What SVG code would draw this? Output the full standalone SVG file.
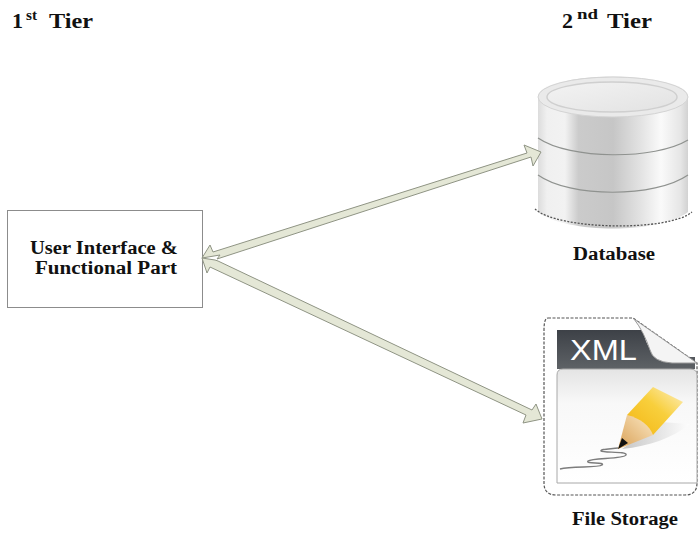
<svg xmlns="http://www.w3.org/2000/svg" width="699" height="535" viewBox="0 0 699 535">
<style>
text{font-family:"Liberation Serif","Times New Roman",serif;font-weight:bold;fill:#111}
.h{font-size:22px}
.s{font-size:14px}
.l{font-size:18px}
.a{fill:#e4e7d6;stroke:#8f9484;stroke-width:1;stroke-linejoin:round}
.ring{fill:none;stroke:#8f928f;stroke-width:1.2}
</style>
<defs>
<linearGradient id="cyl" x1="0" x2="1" y1="0" y2="0">
<stop offset="0" stop-color="#dcdcdc"/><stop offset=".06" stop-color="#f0f0f0"/><stop offset=".18" stop-color="#f2f2f2"/><stop offset=".27" stop-color="#cbcbcb"/><stop offset=".5" stop-color="#c6c6c6"/><stop offset=".68" stop-color="#e2e2e2"/><stop offset=".82" stop-color="#fafafa"/><stop offset=".95" stop-color="#e6e6e6"/><stop offset="1" stop-color="#d2d2d2"/>
</linearGradient>
<linearGradient id="top" x1="0" x2="1" y1="0" y2="1">
<stop offset="0" stop-color="#f3f3f3"/><stop offset="1" stop-color="#e2e2e2"/>
</linearGradient>
<linearGradient id="band" x1="0" x2="0" y1="0" y2="1">
<stop offset="0" stop-color="#3d4147"/><stop offset="1" stop-color="#5e6266"/>
</linearGradient>
<linearGradient id="sheet" x1="0" x2="0" y1="0" y2="1">
<stop offset="0" stop-color="#e4e4e4"/><stop offset=".3" stop-color="#f8f8f8"/><stop offset="1" stop-color="#fff"/>
</linearGradient>
<linearGradient id="pencil" x1="0" x2="1" y1="1" y2="0">
<stop offset="0" stop-color="#f3b512"/><stop offset=".55" stop-color="#f8cf3c"/><stop offset="1" stop-color="#fdf0c4"/>
</linearGradient>
<linearGradient id="wood" x1="0" x2="1" y1="1" y2="0">
<stop offset="0" stop-color="#d9a055"/><stop offset="1" stop-color="#fbe8c4"/>
</linearGradient>
<linearGradient id="shadow" x1="0" x2="1" y1="0" y2="0">
<stop offset="0" stop-color="#b0b0b0"/><stop offset="1" stop-color="#fff"/>
</linearGradient>
</defs>

<g id="ui">
<rect x="7.500" y="210.500" width="195" height="97" fill="#fff" stroke="#8c8c8c" stroke-width="1"/>
<text class="l" x="30" y="254" textLength="148" lengthAdjust="spacingAndGlyphs">User Interface &amp;</text>
<text class="l" x="35" y="274" textLength="142" lengthAdjust="spacingAndGlyphs">Functional Part</text>
</g>

<g id="database">
<path d="M538 97 C538 70 688 70 688 97 V212 C660 234 566 234 538 212 Z" fill="url(#cyl)"/>
<path d="M535 209 C558 230 668 232 692 212" fill="none" stroke="#555" stroke-width="1.300" stroke-dasharray="2 1.500"/>
<ellipse cx="613" cy="97" rx="75" ry="20" fill="#eaeaea" stroke="#d4d4d4" stroke-width="1"/>
<ellipse cx="612" cy="97" rx="65" ry="15" fill="url(#top)" stroke="#cfcfcf" stroke-width="1.500"/>
<path class="ring" d="M538 138 C570 160 655 160 688 140"/>
<path class="ring" d="M538 175 C570 198 655 198 688 175"/>
<text class="l" x="573" y="260" textLength="82" lengthAdjust="spacingAndGlyphs">Database</text>
</g>

<g id="file-storage">
<path d="M548 318 H633 L697 363 V483 Q697 495 685 495 H556 Q544 495 544 483 V330 Q544 318 548 318 Z" fill="#fff" stroke="#555" stroke-width="1.200" stroke-dasharray="3 1.500"/>
<path d="M557 330 H643 Q647 352 660 357 H695 V369 H557 Z" fill="url(#band)"/>
<path d="M557 375 Q557 369 563 369 H690 Q697 369 697 375 V483 H557 Z" fill="url(#sheet)" stroke="#a8a8a8" stroke-width="1"/>
<path d="M634 319 L697 363 H672 Q653 362 650 350 Q644 332 634 319 Z" fill="#f4f4f4" stroke="#9a9a9a" stroke-width="1"/>
<text x="570" y="360" font-size="29" textLength="67" lengthAdjust="spacingAndGlyphs" style="font-family:'Liberation Sans',Arial,sans-serif;font-weight:normal;fill:#fff">XML</text>
<path d="M622 449 C650 446 672 438 690 424 L660 422 Z" fill="url(#shadow)" opacity=".7"/>
<path d="M627 415 L653 387 L683 402 L653 435 Z" fill="url(#pencil)"/>
<path d="M627 415 C640 418 650 426 653 435 L618 449 Z" fill="url(#wood)"/>
<path d="M622 438 L628 443 L618 449 Z" fill="#111"/>
<path d="M618 448 C610 449 600 449 601 451 C603 453 628 451 626 455 C624 459 592 458 588 461 C585 464 606 462 602 465 C598 468 572 466 560 469" fill="none" stroke="#7d7d7d" stroke-width="1.400"/>
<text class="l" x="572" y="525" textLength="106" lengthAdjust="spacingAndGlyphs">File Storage</text>
</g>

<g id="tier1">
<text class="h" x="12" y="28">1</text>
<text class="s" x="26" y="20" textLength="11" lengthAdjust="spacingAndGlyphs">st</text>
<text class="h" x="49" y="28" textLength="44" lengthAdjust="spacingAndGlyphs">Tier</text>
</g>
<g id="tier2">
<text class="h" x="562" y="28">2</text>
<text class="s" x="577" y="19" textLength="21" lengthAdjust="spacingAndGlyphs">nd</text>
<text class="h" x="607" y="28" textLength="45" lengthAdjust="spacingAndGlyphs">Tier</text>
</g>

<g id="connectors">
<path class="a" d="M202 258 L210 245 L213 252 L527 153 L524 145 L541 152 L533 166 L531 157 L217 259 L220 255 Z"/>
<path class="a" d="M202 258 L215 260 L218 261 L532 410 L536 404 L542 419 L523 423 L526 415 L210 267 L207 273 Z"/>
</g>
</svg>
